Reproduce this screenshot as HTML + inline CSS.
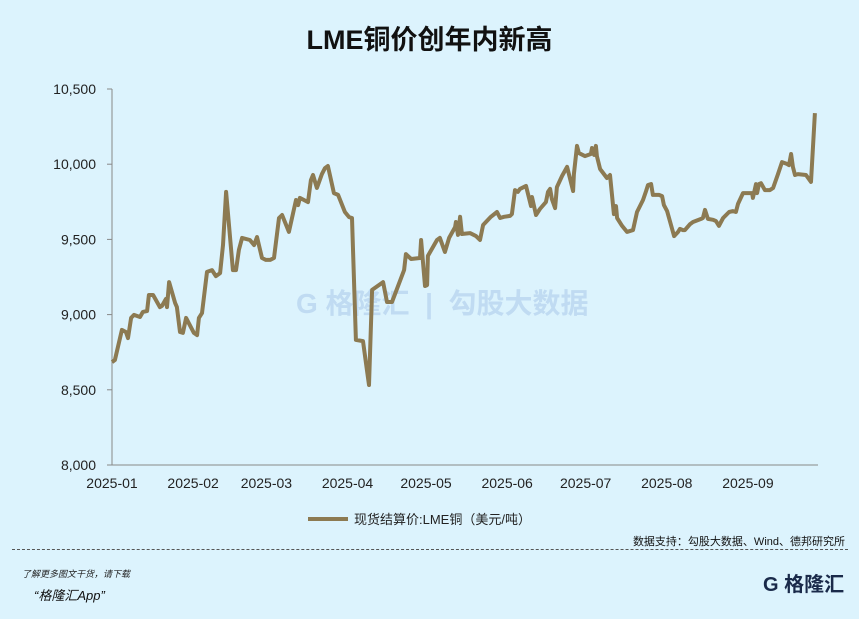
<!DOCTYPE html>
<html><head><meta charset="utf-8">
<style>
body{margin:0;width:859px;height:619px;background:#dcf3fd;font-family:"Liberation Sans","Noto Sans CJK SC",sans-serif;overflow:hidden;position:relative}
.t{position:absolute}
</style></head><body>
<div class="t" style="left:0;width:859px;top:18px;text-align:center;font-size:27px;font-weight:bold;color:#111">LME铜价创年内新高</div>
<div class="t" style="left:296px;top:282px;font-size:28px;color:rgba(140,175,220,0.35);font-weight:bold">G 格隆汇 &nbsp;|&nbsp; 勾股大数据</div>
<svg id="c" width="859" height="619" style="position:absolute;left:0;top:0"></svg>
<div class="t" style="right:14px;top:533px;font-size:11px;color:#111">数据支持：勾股大数据、Wind、德邦研究所</div>
<div class="t" style="left:12px;top:549px;width:836px;border-top:1px dashed #555"></div>
<div class="t" style="left:22px;top:567px;font-size:9px;font-style:italic;color:#222">了解更多图文干货，请下载</div>
<div class="t" style="left:34px;top:585px;font-size:13px;font-style:italic;color:#111">“格隆汇App”</div>
<div class="t" style="left:763px;top:568px;font-size:20px;font-weight:bold;color:#1a2a4a">G 格隆汇</div>
<script>
const days=[0,1.1,3.8,5.3,6.1,7.3,8.4,10.7,11.8,13.4,14.1,15.7,18.3,19.1,20.6,21.0,21.8,24.1,24.8,26.0,27.1,28.3,31.3,32.5,33.2,34.4,36.3,38.2,39.7,41.3,42.4,43.6,46.2,47.4,48.5,49.7,52.7,54.3,55.4,57.3,58.8,60.4,61.9,63.8,65.0,67.6,70.3,71.1,71.8,74.9,76.0,76.8,78.3,80.2,81.4,82.5,84.8,86.4,89.0,90.6,91.7,93.2,95.9,97.4,98.2,99.4,103.6,105.1,107.0,111.6,112.3,114.3,117.7,118.1,119.6,120.4,120.7,124.2,125.3,127.2,128.8,131.1,131.4,132.2,133.0,133.7,136.8,139.1,140.6,141.8,144.8,147.1,148.3,149.8,152.1,152.8,154.0,155.1,155.9,158.2,160.1,160.5,162.0,163.5,165.8,166.6,167.4,168.1,169.3,170.0,172.0,173.9,176.2,176.5,177.7,178.4,180.7,183.0,183.4,184.2,184.9,185.3,186.5,189.1,190.3,191.8,192.6,193.0,194.9,196.8,199.1,200.6,202.9,204.1,204.8,206.0,206.7,209.0,210.2,210.9,212.1,213.6,214.8,216.3,217.0,218.2,218.9,220.9,222.0,225.1,225.8,226.6,227.7,229.7,230.8,231.9,233.5,235.8,237.3,238.4,239.2,241.1,244.6,244.9,246.1,246.5,247.2,248.0,249.5,251.4,252.6,254.5,256.0,257.9,258.7,259.5,260.2,261.0,262.1,265.2,267.1,268.6];
const prices=[8684,8698,8898,8884,8844,8978,8998,8984,9018,9024,9130,9130,9050,9058,9104,9050,9216,9078,9050,8884,8878,8978,8878,8864,8978,9010,9284,9296,9256,9276,9462,9816,9296,9296,9430,9510,9496,9462,9516,9376,9364,9364,9376,9642,9662,9550,9762,9728,9776,9748,9894,9928,9842,9934,9974,9988,9808,9796,9682,9648,9642,8832,8824,8632,8532,9164,9216,9084,9084,9296,9402,9370,9376,9496,9190,9196,9390,9496,9510,9416,9510,9582,9616,9530,9650,9536,9542,9522,9496,9596,9650,9682,9642,9650,9656,9668,9828,9816,9836,9856,9722,9782,9662,9702,9748,9816,9836,9768,9708,9848,9922,9982,9822,9934,10122,10074,10054,10068,10108,10062,10122,10054,9968,9908,9928,9668,9722,9642,9590,9550,9562,9682,9762,9822,9862,9868,9796,9796,9788,9728,9688,9596,9522,9550,9570,9562,9562,9602,9616,9636,9642,9696,9636,9630,9622,9590,9642,9682,9688,9682,9736,9808,9808,9776,9868,9808,9868,9874,9828,9828,9842,9934,10014,10002,9994,10068,9982,9928,9934,9928,9882,10340];
const xLabels=["2025-01","2025-02","2025-03","2025-04","2025-05","2025-06","2025-07","2025-08","2025-09"];
const xLabelDays=[0,31,59,90,120,151,181,212,243];
const yTicks=[8000,8500,9000,9500,10000,10500];
const NS="http://www.w3.org/2000/svg";
const svg=document.getElementById('c');
const X=d=>112+d*2.617, Y=v=>465-(v-8000)*0.15040;
function el(t,a){const e=document.createElementNS(NS,t);for(const k in a)e.setAttribute(k,a[k]);svg.appendChild(e);return e;}
let ax=el('line',{x1:112,y1:89,x2:112,y2:465,stroke:'#888','stroke-width':1});


let bx=el('line',{x1:112,y1:465,x2:818,y2:465,stroke:'#888','stroke-width':1});


yTicks.forEach(v=>{
  el('line',{x1:107,x2:112,y1:Y(v),y2:Y(v),stroke:'#888'});
  const t=el('text',{x:96,y:Y(v)+5,'text-anchor':'end','font-size':14,fill:'#222'});
  t.textContent=v.toLocaleString('en-US');
  
  
});
xLabels.forEach((l,i)=>{
  const t=el('text',{x:X(xLabelDays[i]),y:488,'text-anchor':'middle','font-size':14,fill:'#222'});
  t.textContent=l;
  
  
});
const p=el('polyline',{points:days.map((d,i)=>X(d).toFixed(1)+','+Y(prices[i]).toFixed(1)).join(' '),fill:'none',stroke:'#8c7a52','stroke-width':4,'stroke-linejoin':'round'});


const ll=el('line',{x1:308,x2:348,y1:519,y2:519,stroke:'#8c7a52','stroke-width':4});


const lt=el('text',{x:354,y:524,'font-size':13,fill:'#222'});
lt.textContent='现货结算价:LME铜（美元/吨）';


</script>
</body></html>
